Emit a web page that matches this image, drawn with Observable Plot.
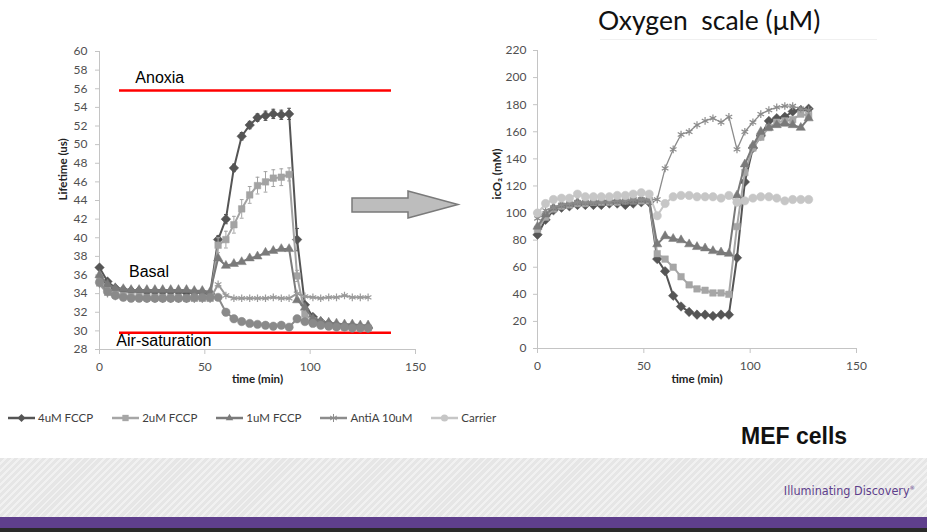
<!DOCTYPE html>
<html><head><meta charset="utf-8">
<script src="https://cdn.jsdelivr.net/npm/d3@7"></script>
<script src="https://cdn.jsdelivr.net/npm/@observablehq/plot@0.6"></script>
<style>
html,body{margin:0;padding:0;width:927px;height:532px;overflow:hidden;background:#fff;position:relative;font-family:"Liberation Sans",Arial,sans-serif}
.abs{position:absolute}
#left{left:0;top:0}
#right{left:450px;top:0}
#title{left:598px;top:4px;font-family:Lato,"Open Sans",sans-serif;font-size:26.5px;color:#111;white-space:pre}
#titleRule{left:600px;top:39px;width:277px;height:1px;background:#f0f0f0}
#mef{left:741px;top:423px;font-weight:bold;font-size:23px;color:#111}
#legend{left:8px;top:411px;display:flex;align-items:center;font-family:Lato,"Open Sans",sans-serif;font-size:11.5px;color:#404040}
.item{display:flex;align-items:center;margin-right:19px}
.item svg{margin-right:2px}
#footer{left:0;top:458px;width:927px;height:59px;background:repeating-linear-gradient(135deg,#e6e6e6 0px,#e6e6e6 3px,#f1f1f1 3px,#f1f1f1 5px)}
#brand{right:12px;top:483px;font-family:"Liberation Sans Narrow","DejaVu Sans Condensed",sans-serif;font-stretch:condensed;font-size:12.5px;color:#5e3f8c}
#purple{left:0;top:517px;width:927px;height:11px;background:#5f3f8d}
#dark{left:0;top:528px;width:927px;height:4px;background:#2a2a2a}
</style></head><body>
<div id="title" class="abs">Oxygen  scale (μM)</div>
<div id="titleRule" class="abs"></div>
<div id="left" class="abs"></div>
<div id="right" class="abs"></div>
<svg class="abs" style="left:0;top:0" width="927" height="400">
  <polygon points="352,198 408,198 408,191 458,204.5 408,218 408,212 352,212" fill="#bdbdbd" stroke="#7a7a7a" stroke-width="1.5"/>
</svg>
<div id="legend" class="abs"></div>
<div id="mef" class="abs">MEF cells</div>
<div id="footer" class="abs"></div>
<div id="brand" class="abs">Illuminating Discovery<sup style="font-size:6px">®</sup></div>
<div id="purple" class="abs"></div>
<div id="dark" class="abs"></div>
<script>
// ---------- data ----------
const time = [0,3.8,7.5,11.3,15,18.8,22.5,26.3,30,33.8,37.5,41.3,45,48.8,52.5,56.3,60,63.8,67.5,71.3,75,78.8,82.5,86.3,90,93.8,97.5,101.3,105,108.8,112.5,116.3,120,123.8,127.5];
const seriesNames = ["4uM FCCP","2uM FCCP","1uM FCCP","AntiA 10uM","Carrier"];

// Left chart: Lifetime (us)
const left4uM  = [36.8,35.3,34.6,34.4,34.3,34.3,34.2,34.2,34.2,34.2,34.2,34.1,34.1,34.1,34.0,39.8,42.0,47.5,50.9,52.1,52.9,53.1,53.3,53.2,53.3,39.8,32.8,31.5,31.0,30.8,30.6,30.5,30.4,30.4,30.3];
const left2uM  = [35.6,34.5,34.0,33.8,33.7,33.7,33.6,33.6,33.6,33.6,33.6,33.5,33.5,33.5,33.5,39.2,39.8,41.4,43.1,44.6,45.6,46.0,46.4,46.5,46.8,35.9,31.8,31.1,30.8,30.6,30.5,30.4,30.4,30.3,30.3];
const left1uM  = [36.0,35.0,34.6,34.5,34.4,34.4,34.4,34.4,34.4,34.4,34.4,34.4,34.3,34.3,34.2,37.8,37.0,37.2,37.4,37.8,38.0,38.4,38.6,38.8,38.8,33.3,32.5,31.3,31.0,30.9,30.8,30.7,30.7,30.6,30.6];
const leftAntiA = [35.0,34.0,33.7,33.6,33.5,33.5,33.4,33.4,33.4,33.4,33.4,33.4,33.4,33.4,33.4,35.0,33.8,33.5,33.5,33.5,33.5,33.5,33.6,33.5,33.5,34.0,33.7,33.6,33.5,33.6,33.6,33.8,33.6,33.6,33.6];
const leftCarrier = [35.2,34.2,33.8,33.6,33.5,33.5,33.5,33.5,33.5,33.5,33.5,33.5,33.6,33.6,33.6,33.6,32.0,31.3,31.0,30.8,30.7,30.6,30.5,30.6,30.4,31.3,31.0,30.8,30.6,30.5,30.4,30.4,30.3,30.3,30.3];
const left4uMErr = [0,0,0,0,0,0,0,0,0,0,0,0,0,0,0,0.4,0.5,0.4,0.4,0.4,0.4,0.5,0.5,0.5,0.6,1.2,0,0,0,0,0,0,0,0,0];
const left2uMErr = [0,0,0,0,0,0,0,0,0,0,0,0,0,0,0,0.8,0.9,0.9,1.0,0.9,0.9,1.1,0.9,0.9,0.7,0.6,0,0,0,0,0,0,0,0,0];
const leftTicksY = [28,30,32,34,36,38,40,42,44,46,48,50,52,54,56,58,60];
const annotText = ["Anoxia","Basal","Air-saturation"];
const annotX = [17,14,8];
const annotY = [57.2,36.3,28.9];
const refLevels = [55.8,29.8];

// Right chart: icO2 (mM)
const right4uM  = [84,95,102,104,105,106,106,106,106,107,107,106,107,108,108,66,57,39,31,27,25,25,24,25,25,67,123,148,157,168,170,171,175,176,177];
const right2uM  = [88,97,103,105,106,107,107,108,108,108,108,109,109,109,109,70,66,60,53,47,44,43,41,41,40,90,130,148,156,163,167,168,169,173,172];
const right1uM  = [90,99,104,106,107,108,108,108,109,109,109,109,109,110,110,77,83,81,80,77,75,74,72,71,70,113,136,150,160,163,165,166,165,163,170];
const rightAntiA = [96,102,104,106,107,108,108,108,108,108,109,109,110,110,110,110,133,147,158,160,165,168,170,167,171,147,160,167,173,176,178,179,179,177,176];
const rightCarrier = [100,107,110,111,111,114,112,112,112,112,113,113,114,115,114,98,107,112,113,113,112,112,112,111,113,108,109,111,112,112,111,109,110,110,110];
const rightTicksY = [0,20,40,60,80,100,120,140,160,180,200,220];
const xTicks = [0,50,100,150];

// ---------- styles ----------
const symbols = ["diamond2","square","triangle","asterisk","circle"];
const radii = [4.3,3.7,3.4,3.6,4.2];
const colorsLeft  = ["#555555","#a3a3a3","#7a7a7a","#9a9a9a","#8a8a8a"];
const colorsRight = ["#555555","#a6a6a6","#7a7a7a","#8c8c8c","#c6c6c6"];
const widthsLeft = [2,2,2,2,2];
const widthsRight = [2,2,2,1.3,2];

function rows(vals, errs) {
  return time.map((t, i) => ({t, v: vals[i], e: errs ? errs[i] : 0}));
}

function seriesMarks(data, colors, widths) {
  const m = [];
  data.forEach((d, i) => {
    m.push(Plot.line(d, {x: "t", y: "v", stroke: colors[i], strokeWidth: widths[i]}));
    const withErr = d.filter(r => r.e > 0);
    if (withErr.length) {
      m.push(Plot.ruleX(withErr, {x: "t", y1: r => r.v - r.e, y2: r => r.v + r.e, stroke: colors[i], strokeWidth: 1}));
      m.push(Plot.link(withErr, {x1: r => r.t - 0.9, x2: r => r.t + 0.9, y1: r => r.v + r.e, y2: r => r.v + r.e, stroke: colors[i], strokeWidth: 1}));
      m.push(Plot.link(withErr, {x1: r => r.t - 0.9, x2: r => r.t + 0.9, y1: r => r.v - r.e, y2: r => r.v - r.e, stroke: colors[i], strokeWidth: 1}));
    }
    const sym = symbols[i];
    if (sym === "asterisk") {
      m.push(Plot.dot(d, {x: "t", y: "v", symbol: sym, r: radii[i], stroke: colors[i], strokeWidth: 1.2}));
    } else {
      m.push(Plot.dot(d, {x: "t", y: "v", symbol: sym, r: radii[i], fill: colors[i], stroke: colors[i], strokeWidth: 0.5}));
    }
  });
  return m;
}

const font = "Lato, 'Open Sans', sans-serif";

const leftData = [rows(left4uM, left4uMErr), rows(left2uM, left2uMErr), rows(left1uM), rows(leftAntiA), rows(leftCarrier)];
const leftPlot = Plot.plot({
  width: 450, height: 400,
  marginLeft: 99, marginRight: 35, marginTop: 51, marginBottom: 51,
  style: {fontFamily: font, fontSize: "12px", color: "#505050", background: "transparent"},
  x: {domain: [0, 150]},
  y: {domain: [28, 60]},
  marks: [
    Plot.ruleX([0], {stroke: "#c4c4c4"}),
    Plot.ruleY([28], {stroke: "#c4c4c4"}),
    Plot.axisY({ticks: leftTicksY, tickSize: 4, tickPadding: 8, stroke: "#c4c4c4", label: null}),
    Plot.axisX({ticks: xTicks, tickSize: 5, tickPadding: 8, stroke: "#c4c4c4", label: null}),
    Plot.text(["time (min)"], {frameAnchor: "bottom", dy: 33, fontWeight: "bold", fontSize: 11.5, fill: "#222"}),
    Plot.text(["Lifetime (us)"], {frameAnchor: "left", dx: -36, rotate: -90, fontWeight: "bold", fontSize: 11.5, fill: "#222"}),
    Plot.ruleY(refLevels, {x1: 9.5, x2: 138.6, stroke: "#ff0000", strokeWidth: 2.5}),
    ...seriesMarks(leftData, colorsLeft, widthsLeft),
    Plot.text(annotText, {x: (d, i) => annotX[i], y: (d, i) => annotY[i], textAnchor: "start", fontSize: 16, fill: "#000", fontFamily: "'Liberation Sans', Arial, sans-serif"})
  ]
});
document.getElementById("left").appendChild(leftPlot);

const rightData = [rows(right4uM), rows(right2uM), rows(right1uM), rows(rightAntiA), rows(rightCarrier)];
const rightPlot = Plot.plot({
  width: 460, height: 400,
  marginLeft: 87, marginRight: 54, marginTop: 50, marginBottom: 52,
  style: {fontFamily: font, fontSize: "12px", color: "#505050", background: "transparent"},
  x: {domain: [0, 150]},
  y: {domain: [0, 220]},
  marks: [
    Plot.ruleX([0], {stroke: "#c4c4c4"}),
    Plot.ruleY([0], {stroke: "#c4c4c4"}),
    Plot.axisY({ticks: rightTicksY, tickSize: 4, tickPadding: 7, stroke: "#c4c4c4", label: null}),
    Plot.axisX({ticks: xTicks, tickSize: 5, tickPadding: 8, stroke: "#c4c4c4", label: null}),
    Plot.text(["time (min)"], {frameAnchor: "bottom", dy: 34, fontWeight: "bold", fontSize: 11.5, fill: "#222"}),
    Plot.text(["icO₂ (mM)"], {frameAnchor: "left", dx: -40, rotate: -90, fontWeight: "bold", fontSize: 11.5, fill: "#222"}),
    ...seriesMarks(rightData, colorsRight, widthsRight)
  ]
});
document.getElementById("right").appendChild(rightPlot);

// ---------- legend ----------
const legend = d3.select("#legend");
const legendColors = ["#555555","#a6a6a6","#7a7a7a","#8c8c8c","#c6c6c6"];
const symMap = {diamond2: d3.symbolDiamond2, square: d3.symbolSquare, triangle: d3.symbolTriangle2, asterisk: d3.symbolAsterisk, circle: d3.symbolCircle};
seriesNames.forEach((name, i) => {
  const it = legend.append("div").attr("class", "item");
  const s = it.append("svg").attr("width", 28).attr("height", 12);
  s.append("line").attr("x1", 0).attr("x2", 27).attr("y1", 6).attr("y2", 6).attr("stroke", legendColors[i]).attr("stroke-width", 2.5);
  const filled = symbols[i] !== "asterisk";
  s.append("path").attr("transform", "translate(13.5,6)")
    .attr("d", d3.symbol(symMap[symbols[i]], filled ? 40 : 45)())
    .attr("fill", filled ? legendColors[i] : "none")
    .attr("stroke", legendColors[i]).attr("stroke-width", filled ? 0 : 1);
  it.append("span").text(name);
});
</script>
</body></html>
